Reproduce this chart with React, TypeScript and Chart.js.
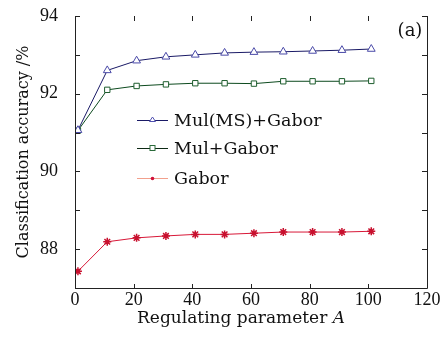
import React, { useEffect, useRef } from "react";
import { Chart, registerables } from "chart.js";

Chart.register(...registerables);

const regParam = [1, 11, 21, 31, 41, 51, 61, 71, 81, 91, 101];
const mulMsGabor = [91.06, 92.6, 92.85, 92.95, 93.0, 93.05, 93.07, 93.08, 93.1, 93.12, 93.15];
const mulGabor = [91.05, 92.1, 92.2, 92.24, 92.27, 92.27, 92.26, 92.32, 92.32, 92.32, 92.33];
const gabor = [87.43, 88.19, 88.29, 88.34, 88.38, 88.38, 88.41, 88.44, 88.44, 88.44, 88.46];
const seriesNames = ["Mul(MS)+Gabor", "Mul+Gabor", "Gabor"];
const xTicks = [0, 20, 40, 60, 80, 100, 120];
const yLabelled = [88, 90, 92, 94];

const SERIF = "'DejaVu Serif', serif";
const TIMES = "'Liberation Serif', serif";

const frameAndLegend = {
  id: "frameAndLegend",
  afterDraw(chart: any) {
    const { ctx, chartArea } = chart;
    const { left, right, top, bottom } = chartArea;
    const xs = chart.scales.x;
    const ys = chart.scales.y;
    ctx.save();
    ctx.strokeStyle = "#222";
    ctx.lineWidth = 1;
    ctx.beginPath();
    ctx.moveTo(left + 0.5, top);
    ctx.lineTo(left + 0.5, bottom + 0.5);
    ctx.lineTo(right + 0.5, bottom + 0.5);
    ctx.lineTo(right + 0.5, top);
    ctx.stroke();
    // inward ticks
    ctx.beginPath();
    for (let v = 87; v <= 94; v++) {
      const py = Math.round(ys.getPixelForValue(v)) + 0.5;
      ctx.moveTo(left, py);
      ctx.lineTo(left + 5, py);
      ctx.moveTo(right, py);
      ctx.lineTo(right - 5, py);
    }
    for (const v of xTicks) {
      if (v === 0 || v === 120) continue;
      const px = Math.round(xs.getPixelForValue(v)) + 0.5;
      ctx.moveTo(px, top);
      ctx.lineTo(px, top + 5);
      ctx.moveTo(px, bottom);
      ctx.lineTo(px, bottom - 4);
    }
    ctx.stroke();

    // legend
    const lx0 = 137, lx1 = 168, tx = 174;
    const rows = [120, 148, 178];
    const lineCols = ["#1a1a66", "#0d2a14", "#f2a08c"];
    ctx.font = `17.5px ${SERIF}`;
    ctx.textBaseline = "middle";
    ctx.fillStyle = "#111";
    rows.forEach((ry, i) => {
      ctx.strokeStyle = lineCols[i];
      ctx.lineWidth = 1;
      ctx.beginPath();
      ctx.moveTo(lx0, ry + 0.5);
      ctx.lineTo(lx1, ry + 0.5);
      ctx.stroke();
      const cx = (lx0 + lx1) / 2;
      if (i === 0) {
        ctx.strokeStyle = "#5050b0";
        ctx.fillStyle = "#fff";
        ctx.beginPath();
        ctx.moveTo(cx, ry - 3);
        ctx.lineTo(cx + 3, ry + 1.5);
        ctx.lineTo(cx - 3, ry + 1.5);
        ctx.closePath();
        ctx.fill();
        ctx.stroke();
      } else if (i === 1) {
        ctx.strokeStyle = "#2a6a3a";
        ctx.fillStyle = "#fff";
        ctx.fillRect(cx - 2.5, ry - 2.5, 5, 5);
        ctx.strokeRect(cx - 2.5, ry - 2.5, 5, 5);
      } else {
        ctx.fillStyle = "#d0103a";
        ctx.beginPath();
        ctx.arc(cx, ry + 0.5, 1.8, 0, Math.PI * 2);
        ctx.fill();
      }
      ctx.fillStyle = "#111";
      ctx.fillText(seriesNames[i], tx, ry + 1);
    });

    // panel label
    ctx.font = `18px ${SERIF}`;
    ctx.textAlign = "center";
    ctx.fillText("(a)", 410, 31);

    // x title with italic A
    const t1 = "Regulating parameter ";
    const t2 = "A";
    ctx.font = `17px ${SERIF}`;
    const w1 = ctx.measureText(t1).width;
    ctx.font = `italic 17px ${SERIF}`;
    const w2 = ctx.measureText(t2).width;
    const startX = 241 - (w1 + w2) / 2;
    ctx.textAlign = "left";
    ctx.textBaseline = "middle";
    ctx.font = `17px ${SERIF}`;
    ctx.fillText(t1, startX, 319);
    ctx.font = `italic 17px ${SERIF}`;
    ctx.fillText(t2, startX + w1, 319);
    ctx.restore();
  },
};

export default function App() {
  const ref = useRef<HTMLCanvasElement>(null);
  useEffect(() => {
    if (!ref.current) return;
    const mk = (arr: number[]) => regParam.map((x, i) => ({ x, y: arr[i] }));
    const chart = new Chart(ref.current, {
      type: "line",
      data: {
        datasets: [
          {
            label: seriesNames[0],
            data: mk(mulMsGabor),
            borderColor: "#1a1a66",
            borderWidth: 1,
            pointStyle: "triangle",
            pointRadius: 4.5,
            pointBorderColor: "#4a4aa8",
            pointBackgroundColor: "rgba(255,255,255,1)",
            pointBorderWidth: 1,
            tension: 0,
          },
          {
            label: seriesNames[1],
            data: mk(mulGabor),
            borderColor: "#0c4a1e",
            borderWidth: 1,
            pointStyle: "rect",
            pointRadius: 3.8,
            pointBorderColor: "#1e5e2e",
            pointBackgroundColor: "rgba(255,255,255,1)",
            pointBorderWidth: 1,
            tension: 0,
          },
          {
            label: seriesNames[2],
            data: mk(gabor),
            borderColor: "#d81838",
            borderWidth: 1,
            pointStyle: "star",
            pointRadius: 4,
            pointBorderColor: "#c8102e",
            pointBackgroundColor: "#c8102e",
            pointBorderWidth: 1.5,
            tension: 0,
          },
        ],
      },
      options: {
        responsive: false,
        animation: false,
        layout: { padding: { left: 0, right: 15, top: 16, bottom: 0 } },
        plugins: {
          legend: { display: false },
          tooltip: { enabled: false },
        },
        scales: {
          x: {
            type: "linear",
            min: 0,
            max: 120,
            grid: { display: false, drawTicks: false },
            border: { display: false },
            afterFit: (s: any) => {
              s.height = 57;
              s.paddingLeft = 0;
              s.paddingRight = 0;
            },
            afterBuildTicks: (s: any) => {
              s.ticks = xTicks.map((v) => ({ value: v }));
            },
            ticks: {
              padding: 1,
              color: "#111",
              font: { family: TIMES, size: 18 },
              maxRotation: 0,
              autoSkip: false,
            },
          },
          y: {
            min: 87,
            max: 94,
            grid: { display: false, drawTicks: false },
            border: { display: false },
            afterFit: (s: any) => {
              s.width = 75;
              s.paddingTop = 0;
              s.paddingBottom = 0;
            },
            afterBuildTicks: (s: any) => {
              s.ticks = yLabelled.map((v) => ({ value: v }));
            },
            ticks: {
              padding: 17,
              color: "#111",
              font: { family: TIMES, size: 18 },
            },
            title: {
              display: true,
              text: "Classification accuracy /%",
              color: "#111",
              font: { family: SERIF, size: 16 },
              padding: { top: 14, bottom: 0 },
            },
          },
        },
      },
      plugins: [frameAndLegend],
    });
    return () => chart.destroy();
  }, []);
  return (
    <div style={{ position: "absolute", left: 0, top: 0, width: 442, height: 345, background: "#fff" }}>
      <canvas ref={ref} width={442} height={345} />
    </div>
  );
}
